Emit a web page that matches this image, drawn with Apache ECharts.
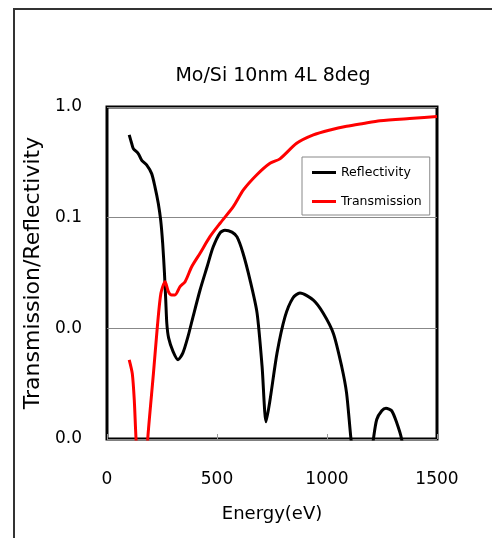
<!DOCTYPE html>
<html>
<head>
<meta charset="utf-8">
<script src="https://cdn.jsdelivr.net/npm/echarts@6/dist/echarts.min.js"></script>
<style>
  html, body { margin: 0; padding: 0; background: #fff; }
  #chart { width: 492px; height: 538px; }
</style>
</head>
<body>
<div id="chart"></div>
<script>
// Energy (eV) vs reflectivity / transmission (log y axis)
const reflEnergy = [101, 112, 120, 142, 158, 180, 203, 218, 233, 244, 253, 261, 267, 272, 280, 300, 323, 345, 368, 391, 423, 455, 482, 514, 536, 568, 591, 618, 650, 682, 705, 723, 741, 773, 809, 845, 877, 938, 983, 1029, 1067, 1089, 1109, 1140, 1175, 1211, 1226, 1249, 1268, 1294, 1317, 1339, 1370, 1430, 1500];
const reflValue = [0.56, 0.47, 0.42, 0.38, 0.33, 0.30, 0.25, 0.19, 0.135, 0.095, 0.059, 0.032, 0.018, 0.011, 0.0082, 0.0062, 0.0052, 0.006, 0.0084, 0.0127, 0.0222, 0.036, 0.054, 0.073, 0.077, 0.074, 0.067, 0.048, 0.0274, 0.0138, 0.0045, 0.00143, 0.00225, 0.006, 0.0127, 0.0188, 0.0209, 0.018, 0.0137, 0.009, 0.0045, 0.0026, 0.001, 0.0003, 0.0003, 0.001, 0.0015, 0.0018, 0.0019, 0.0018, 0.0014, 0.001, 0.0004, 0.0002, 0.0001];

const transEnergy = [101, 115, 124, 132, 150, 170, 185, 211, 229, 245, 264, 279, 294, 309, 332, 355, 385, 423, 468, 514, 574, 620, 680, 741, 786, 862, 938, 1014, 1089, 1165, 1241, 1392, 1500];
const transValue = [0.0052, 0.0039, 0.00225, 0.001, 0.0003, 0.0003, 0.001, 0.0039, 0.0104, 0.0207, 0.0264, 0.0215, 0.020, 0.020, 0.0238, 0.0264, 0.036, 0.0477, 0.0673, 0.089, 0.1256, 0.178, 0.243, 0.31, 0.34, 0.47, 0.56, 0.62, 0.67, 0.71, 0.75, 0.79, 0.82];

const xTicks = { min: 0, max: 1500, interval: 500 };
const yRange = { min: 0.001, max: 1 };

function pairs(xs, ys) {
  return xs.map((x, i) => [x, ys[i]]);
}

// plain line for the legend, no marker
const lineIcon = "path://M0,0 H24 V3 H0 Z";

const chart = echarts.init(document.getElementById("chart"));

chart.setOption({
  animation: false,
  textStyle: { fontFamily: "DejaVu Sans", color: "#000" },
  title: {
    text: "Mo/Si 10nm 4L 8deg",
    left: 268,
    top: 62,
    textAlign: "center",
    textStyle: { fontFamily: "DejaVu Sans", fontSize: 19, fontWeight: "normal", color: "#000" },
  },
  graphic: [
    {
      type: "rect",
      z: -10,
      shape: { x: 14, y: 9, width: 600, height: 600 },
      style: { fill: "none", stroke: "#333", lineWidth: 2 },
    },
  ],
  legend: {
    orient: "vertical",
    left: 302,
    top: 157,
    padding: [9, 8, 7, 10],
    itemWidth: 24,
    itemHeight: 3,
    itemGap: 16,
    backgroundColor: "#fff",
    borderColor: "#888",
    borderWidth: 1,
    borderRadius: 0,
    textStyle: { fontFamily: "DejaVu Sans", fontSize: 12.5, color: "#000" },
    data: [
      { name: "Reflectivity", icon: lineIcon },
      { name: "Transmission", icon: lineIcon },
    ],
  },
  grid: {
    left: 107,
    top: 107,
    width: 330,
    height: 332,
    show: true,
    borderColor: "#000",
    borderWidth: 3,
  },
  xAxis: {
    type: "value",
    min: xTicks.min,
    max: xTicks.max,
    interval: xTicks.interval,
    name: "Energy(eV)",
    nameLocation: "middle",
    nameGap: 66,
    nameTextStyle: { fontSize: 18, color: "#000" },
    axisLine: { show: false },
    axisTick: { show: true, inside: true, length: 5, lineStyle: { color: "#999" } },
    axisLabel: { fontSize: 17, color: "#000", margin: 32, formatter: (v) => String(v) },
    splitLine: { show: false },
  },
  yAxis: {
    type: "log",
    logBase: 10,
    min: yRange.min,
    max: yRange.max,
    name: "Transmission/Reflectivity",
    nameLocation: "middle",
    nameGap: 55,
    nameTextStyle: { fontSize: 22, color: "#000" },
    axisLine: { show: false },
    axisTick: { show: false },
    axisLabel: {
      fontSize: 17,
      color: "#000",
      margin: 25,
      formatter: (v) => Number(v).toFixed(1),
    },
    splitLine: { show: true, lineStyle: { color: "#888", width: 1 } },
  },
  series: [
    {
      name: "Reflectivity",
      type: "line",
      data: pairs(reflEnergy, reflValue),
      smooth: 0.25,
      showSymbol: false,
      symbol: "none",
      clip: true,
      lineStyle: { color: "#000", width: 3 },
      itemStyle: { color: "#000" },
    },
    {
      name: "Transmission",
      type: "line",
      data: pairs(transEnergy, transValue),
      smooth: 0.25,
      showSymbol: false,
      symbol: "none",
      clip: true,
      lineStyle: { color: "#ff0000", width: 3 },
      itemStyle: { color: "#ff0000" },
    },
  ],
});
</script>
</body>
</html>
